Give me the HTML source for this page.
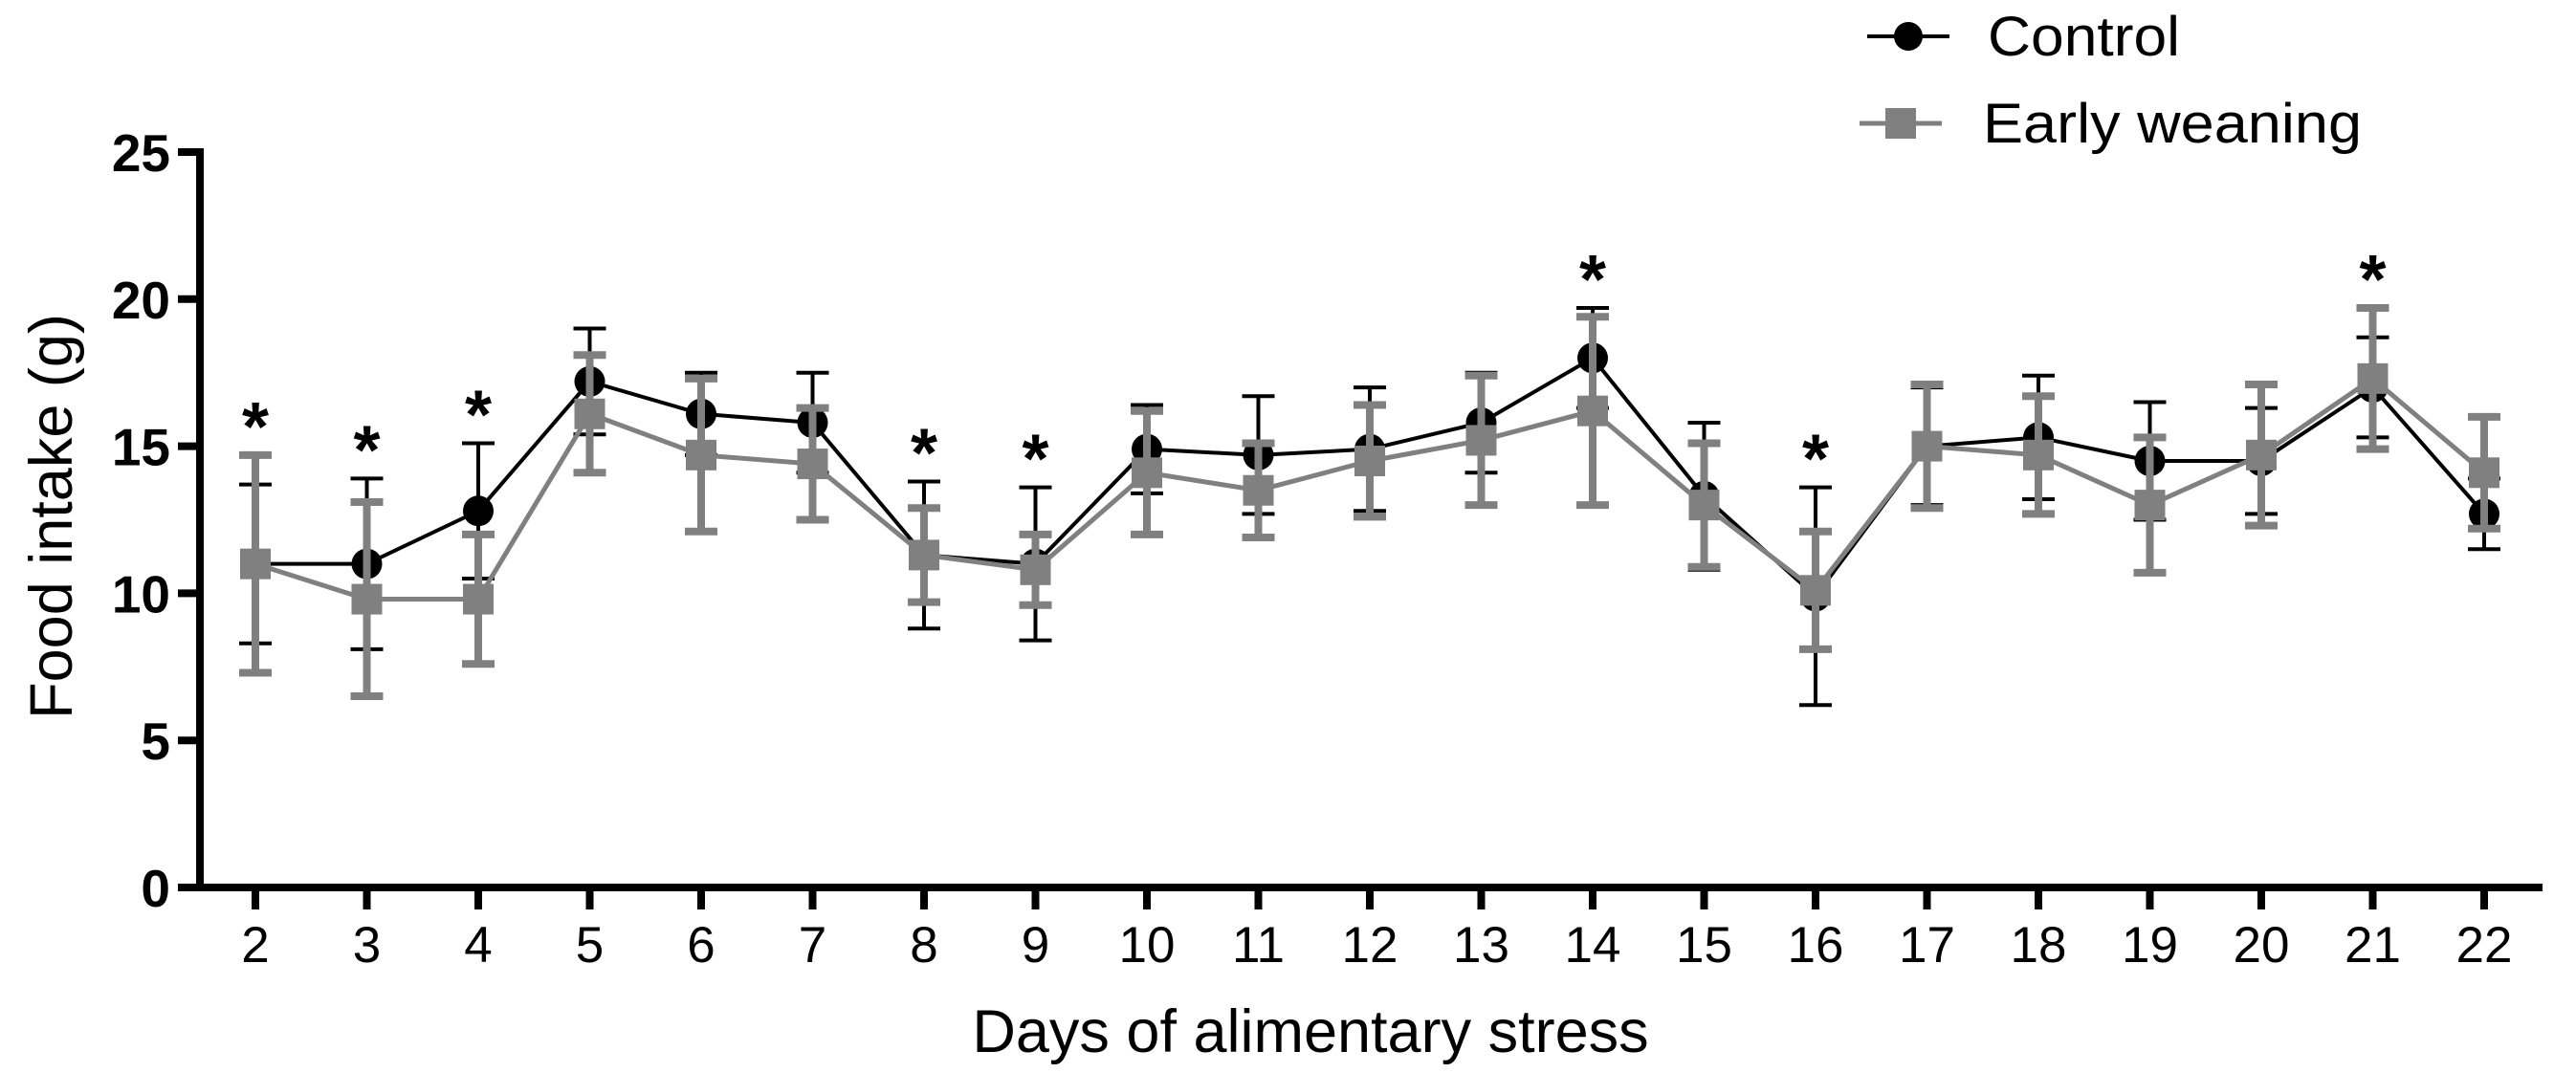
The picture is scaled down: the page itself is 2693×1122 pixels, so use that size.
<!DOCTYPE html>
<html><head><meta charset="utf-8"><style>
html,body{margin:0;padding:0;background:#fff;}
svg{display:block;font-family:"Liberation Sans",Arial,sans-serif;}
</style></head><body>
<svg id="chart" width="2693" height="1122" viewBox="0 0 2693 1122" xmlns="http://www.w3.org/2000/svg">
<g id="legend">
  <g>
    <line x1="1952" y1="38" x2="2038" y2="38" stroke="#000" stroke-width="4"/>
    <circle cx="1995" cy="38" r="15" fill="#000"/>
    <text x="2078" y="58" font-size="58" textLength="201" lengthAdjust="spacingAndGlyphs">Control</text>
  </g>
  <g>
    <line x1="1944" y1="129" x2="2030" y2="129" stroke="#808080" stroke-width="5"/>
    <rect x="1971" y="113" width="32" height="32" fill="#808080"/>
    <text x="2073" y="149" font-size="58" textLength="396" lengthAdjust="spacingAndGlyphs">Early weaning</text>
  </g>
</g>
<g id="axes"></g>
<g id="series"></g>
<text x="1370" y="1100" font-size="63" text-anchor="middle">Days of alimentary stress</text>
<text transform="translate(75,540) rotate(-90)" font-size="63" text-anchor="middle">Food intake (g)</text>
</svg>
<script>
const days = [2,3,4,5,6,7,8,9,10,11,12,13,14,15,16,17,18,19,20,21,22];
const controlMean = [11.0,11.0,12.8,17.2,16.1,15.8,11.3,11.0,14.9,14.7,14.9,15.8,18.0,13.3,9.9,15.0,15.3,14.5,14.5,17.0,12.7];
const controlErr  = [2.7,2.9,2.3,1.8,1.4,1.7,2.5,2.6,1.5,2.0,2.1,1.7,1.7,2.5,3.7,2.0,2.1,2.0,1.8,1.7,1.2];
const earlyMean = [11.0,9.8,9.8,16.1,14.7,14.4,11.3,10.8,14.1,13.5,14.5,15.2,16.2,13.0,10.1,15.0,14.7,13.0,14.7,17.3,14.1];
const earlyErr  = [3.7,3.3,2.2,2.0,2.6,1.9,1.6,1.2,2.1,1.6,1.9,2.2,3.2,2.1,2.0,2.1,2.0,2.3,2.4,2.4,1.9];
const starDays = [2,3,4,8,9,14,16,21];
const yTicks = [0,5,10,15,20,25];

const NS = "http://www.w3.org/2000/svg";
const X0 = 267, X1 = 2597, Y0 = 928, Y25 = 159;
function xs(d){ return X0 + (d - days[0]) * (X1 - X0) / (days[days.length-1] - days[0]); }
function ys(v){ return Y0 - v * (Y0 - Y25) / 25; }
function mk(tag, attrs, parent){
  const e = document.createElementNS(NS, tag);
  for (const k in attrs) e.setAttribute(k, attrs[k]);
  parent.appendChild(e);
  return e;
}
const axes = document.getElementById('axes');
const series = document.getElementById('series');

const ya = mk('line',{x1:209,y1:Y25-4,x2:209,y2:Y0+4,stroke:'#000','stroke-width':8},axes);


const xa = mk('line',{x1:186,y1:Y0,x2:2658,y2:Y0,stroke:'#000','stroke-width':8},axes);



yTicks.forEach(v=>{
  const t = mk('line',{x1:186,y1:ys(v),x2:209,y2:ys(v),stroke:'#000','stroke-width':8},axes);
  
  
  const l = mk('text',{x:178,y:ys(v)+20,'font-size':55,'font-weight':'bold','text-anchor':'end'},axes);
  l.textContent = v;
  
  
});
days.forEach(d=>{
  const t = mk('line',{x1:xs(d),y1:Y0,x2:xs(d),y2:Y0+23,stroke:'#000','stroke-width':8},axes);
  
  
  const l = mk('text',{x:xs(d),y:1006,'font-size':53,'text-anchor':'middle'},axes);
  l.textContent = d;
  
  
});

function drawSeries(means, errs, color, lw, ew, name, marker){
  const g = mk('g',{},series);
  
  
  const pts = days.map((d,i)=>xs(d)+','+ys(means[i])).join(' ');
  const pl = mk('polyline',{points:pts,fill:'none',stroke:color,'stroke-width':lw},g);
  
  
  days.forEach((d,i)=>{
    const x = xs(d), hi = ys(means[i]+errs[i]), lo = ys(means[i]-errs[i]);
    const eb = mk('path',{d:`M${x},${hi}V${lo}M${x-17},${hi}H${x+17}M${x-17},${lo}H${x+17}`,stroke:color,'stroke-width':ew,fill:'none'},g);
    
    
  });
  days.forEach((d,i)=>{
    let m;
    if (marker==='circle') m = mk('circle',{cx:xs(d),cy:ys(means[i]),r:16,fill:color},g);
    else m = mk('rect',{x:xs(d)-16,y:ys(means[i])-16,width:32,height:32,fill:color},g);
    
    
  });
}
drawSeries(controlMean, controlErr, '#000', 4, 4, 'control', 'circle');
drawSeries(earlyMean, earlyErr, '#808080', 5, 8, 'early-weaning', 'square');

starDays.forEach(d=>{
  const i = days.indexOf(d);
  const top = Math.max(controlMean[i]+controlErr[i], earlyMean[i]+earlyErr[i]);
  const s = mk('text',{x:xs(d),y:ys(top)-5,'font-size':72,'font-weight':'bold','text-anchor':'middle'},series);
  s.textContent = '*';
  
  
});
</script>
</body></html>
